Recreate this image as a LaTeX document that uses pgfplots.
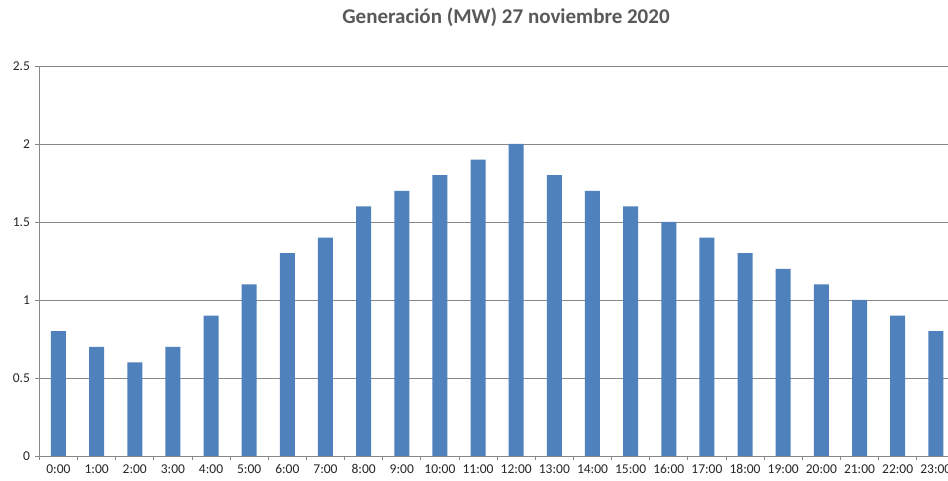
\documentclass[border=0pt]{standalone}
\usepackage{fontspec}
\setmainfont{Carlito}
\usepackage{pgfplots}
\pgfplotsset{compat=1.18}
\definecolor{barblue}{HTML}{4F81BD}
\definecolor{gridgray}{HTML}{888888}
\definecolor{titlegray}{HTML}{595959}
\definecolor{labgray}{HTML}{262626}
\begin{document}
\begin{tikzpicture}[x=1pt,y=1pt]
\useasboundingbox (0,0) rectangle (948,481);
\clip (0,0) rectangle (948,481);
\fill[white] (0,0) rectangle (948,481);
\begin{axis}[
  at={(39.4pt,25pt)}, anchor=south west,
  scale only axis, width=908.6pt, height=390pt,
  xmin=-0.5, xmax=23.32, ymin=0, ymax=2.5,
  ytick={0,0.5,...,2.5},
  xtick={0,...,23},
  xticklabels={0:00,1:00,2:00,3:00,4:00,5:00,6:00,7:00,8:00,9:00,10:00,11:00,12:00,13:00,14:00,15:00,16:00,17:00,18:00,19:00,20:00,21:00,22:00,23:00},
  minor xtick={-0.5,0.5,...,23.5},
  axis lines*=left,
  axis line style={draw=gridgray, line width=0.8pt},
  ymajorgrids, grid style={draw=gridgray, line width=0.8pt},
  tick align=outside,
  major tick length=4pt, minor tick length=4pt,
  x tick style={draw=none},
  minor x tick style={draw=gridgray, line width=0.8pt},
  y tick style={draw=gridgray, line width=0.8pt},
  /pgf/number format/assume math mode=true,
  ticklabel style={font=\fontsize{13.5}{15}\selectfont, text=labgray},
  yticklabel style={xshift=-2pt},
  xticklabel style={yshift=-1pt},
  clip=false,
]
\addplot[ybar, bar width=15pt, fill=barblue, draw=none] coordinates {
(0,0.8) (1,0.7) (2,0.6) (3,0.7) (4,0.9) (5,1.1) (6,1.3) (7,1.4) (8,1.6) (9,1.7) (10,1.8) (11,1.9) (12,2.0) (13,1.8) (14,1.7) (15,1.6) (16,1.5) (17,1.4) (18,1.3) (19,1.2) (20,1.1) (21,1.0) (22,0.9) (23,0.8)};
\end{axis}
\node[font=\bfseries\fontsize{21}{24}\selectfont, text=titlegray] at (506,464) {Generación (MW) 27 noviembre 2020};
\end{tikzpicture}
\end{document}
